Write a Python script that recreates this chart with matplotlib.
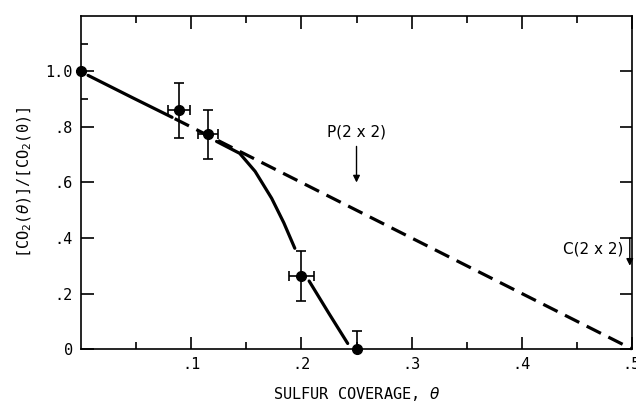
import matplotlib
matplotlib.use("Agg")
import matplotlib.pyplot as plt
import numpy as np

plt.rcParams['font.family'] = ['DejaVu Sans Mono', 'DejaVu Sans']
plt.rcParams['mathtext.fontset'] = 'dejavusans'

# data points
theta_pts = [0.0, 0.089, 0.115, 0.200, 0.250]
ratio_pts = [1.0, 0.86, 0.773, 0.263, 0.0]
xerr_pts = [0.0, 0.010, 0.009, 0.011, 0.0]
yerr_lo = [0.0, 0.10, 0.09, 0.09, 0.0]
yerr_hi = [0.0, 0.10, 0.09, 0.09, 0.065]

# solid curve segments
seg1_x = [0.0064, 0.047, 0.0826]
seg1_y = [0.986, 0.905, 0.835]
seg2_x = [0.123, 0.144, 0.158, 0.173, 0.184, 0.194]
seg2_y = [0.748, 0.705, 0.640, 0.543, 0.455, 0.363]
seg3_x = [0.207, 0.225, 0.242]
seg3_y = [0.245, 0.128, 0.020]

# dashed linear model
dash_x = [0.085, 0.5]
dash_y = [0.83, 0.0]

fig = plt.figure(figsize=(6.36, 4.07), dpi=100)
ax = fig.add_axes([0.1274, 0.1425, 0.8663, 0.8182])

ax.plot(seg1_x, seg1_y, color='black', lw=2.3, solid_capstyle='round')
ax.plot(seg2_x, seg2_y, color='black', lw=2.3, solid_capstyle='round')
ax.plot(seg3_x, seg3_y, color='black', lw=2.3, solid_capstyle='round')
ax.plot(dash_x, dash_y, color='black', lw=2.3, dashes=(5, 2.6), clip_on=False)

ax.errorbar(theta_pts, ratio_pts, xerr=xerr_pts, yerr=[yerr_lo, yerr_hi],
            fmt='o', color='black', ms=7, elinewidth=1.2, capsize=3.5,
            capthick=1.2, zorder=5, clip_on=False)

ax.set_xlim(0, 0.5)
ax.set_ylim(0, 1.2)

ax.set_xticks([0.1, 0.2, 0.3, 0.4, 0.5])
ax.set_xticklabels(['.1', '.2', '.3', '.4', '.5'])
ax.set_xticks([0.05, 0.15, 0.25, 0.35, 0.45], minor=True)
ax.set_yticks([0, 0.2, 0.4, 0.6, 0.8, 1.0])
ax.set_yticklabels(['0', '.2', '.4', '.6', '.8', '1.0'])
ax.set_yticks([0.9, 1.1], minor=True)

ax.tick_params(axis='both', which='major', direction='in', length=9, width=1.2,
               top=True, right=True, labelsize=11, pad=6, color='black')
ax.tick_params(axis='both', which='minor', direction='in', length=5, width=1.2,
               top=True, right=False)
ax.tick_params(axis='y', which='minor', left=True, right=False)
for s in ax.spines.values():
    s.set_linewidth(1.2)

ax.set_xlabel(r'SULFUR COVERAGE, $\theta$', fontsize=11, labelpad=9)
ax.set_ylabel(r'[CO$_2$($\theta$)]/[CO$_2$(0)]', fontsize=11, labelpad=8)

# annotations
ax.annotate('', xy=(0.25, 0.60), xytext=(0.25, 0.73),
            arrowprops=dict(arrowstyle='-|>', color='black', lw=1.0,
                            mutation_scale=10, shrinkA=0, shrinkB=0))
ax.text(0.25, 0.783, 'P(2 x 2)', ha='center', va='center', fontsize=11,
        family='DejaVu Sans')

ax.annotate('', xy=(0.498, 0.30), xytext=(0.498, 0.40),
            arrowprops=dict(arrowstyle='-|>', color='black', lw=1.0,
                            mutation_scale=10, shrinkA=0, shrinkB=0))
ax.text(0.492, 0.36, 'C(2 x 2)', ha='right', va='center', fontsize=11,
        family='DejaVu Sans')

fig.savefig('out.png', dpi=100)
